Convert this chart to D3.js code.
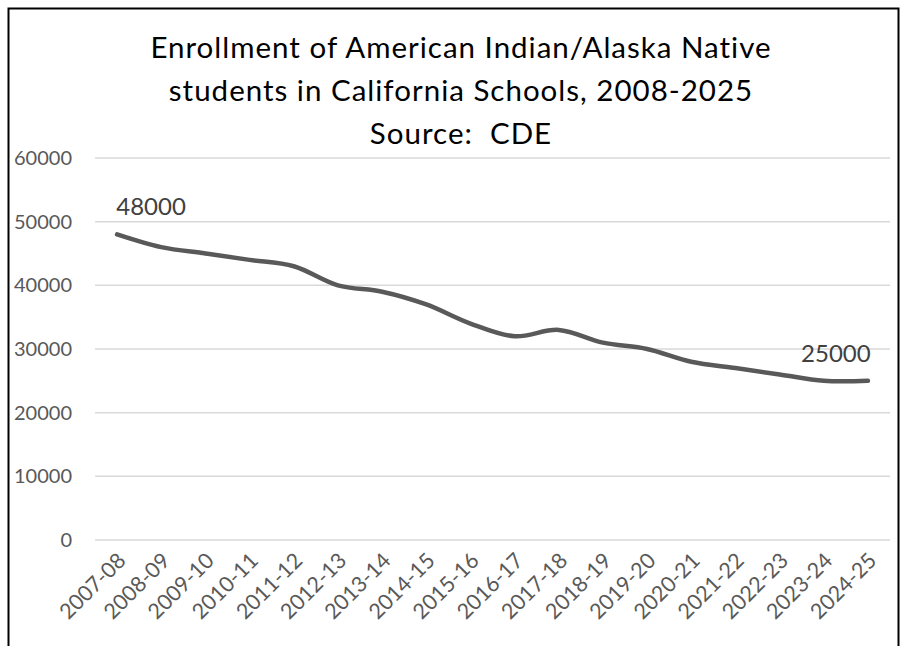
<!DOCTYPE html>
<html>
<head>
<meta charset="utf-8">
<script src="https://cdn.jsdelivr.net/npm/d3@7"></script>
<style>
  body { margin: 0; background: #fff; }
  text { font-family: Lato, "Open Sans", sans-serif; white-space: pre; }
</style>
</head>
<body>
<div id="chart"></div>
<script>
// School years on the x axis
const years = ["2007-08", "2008-09", "2009-10", "2010-11", "2011-12", "2012-13",
    "2013-14", "2014-15", "2015-16", "2016-17", "2017-18", "2018-19",
    "2019-20", "2020-21", "2021-22", "2022-23", "2023-24", "2024-25"];

// Enrollment
const enrollment = [48000, 46000, 45000, 44000, 43000, 40000, 39000, 37000, 34000,
    32000, 33000, 31000, 30000, 28000, 27000, 26000, 25000, 25000];

const yTicks = [0, 10000, 20000, 30000, 40000, 50000, 60000];

const titleLines = ["Enrollment of American Indian/Alaska Native",
    "students in California Schools, 2008-2025",
    "Source:  CDE"];

const width = 906, height = 646;
const margin = { top: 158, right: 16, bottom: 106, left: 95 };
const plotW = width - margin.left - margin.right;
const plotH = height - margin.top - margin.bottom;

const svg = d3.select("#chart")
    .append("svg")
    .attr("width", width)
    .attr("height", height);

// Outer frame (bottom edge is cut off in the original)
svg.append("path")
    .attr("d", `M8.5,${height} V8.5 H898.5 V${height}`)
    .attr("fill", "none")
    .attr("stroke", "#000")
    .attr("stroke-width", 2);

// Title
svg.append("g")
    .selectAll("text")
    .data(titleLines)
    .enter()
    .append("text")
    .attr("x", 461)
    .attr("y", (d, i) => 58 + i * 43)
    .attr("text-anchor", "middle")
    .attr("font-size", 29.5)
    .attr("letter-spacing", 1)
    .attr("fill", "#000")
    .text(d => d);

const g = svg.append("g")
    .attr("transform", `translate(${margin.left},${margin.top})`);

const xScale = d3.scaleBand()
    .domain(years)
    .range([0, plotW]);

const yScale = d3.scaleLinear()
    .domain([0, 60000])
    .range([plotH, 0]);

// Horizontal grid lines
g.selectAll(".grid")
    .data(yTicks)
    .enter()
    .append("line")
    .attr("x1", 0)
    .attr("x2", plotW)
    .attr("y1", d => yScale(d))
    .attr("y2", d => yScale(d))
    .attr("stroke", "#d9d9d9")
    .attr("stroke-width", 1.5);

// Y axis labels
const yAxis = g.append("g")
    .call(d3.axisLeft(yScale).tickValues(yTicks).tickSize(0).tickPadding(23).tickFormat(d => d));
yAxis.select(".domain").remove();
yAxis.selectAll("text")
    .attr("font-size", 20)
    .attr("fill", "#595959")
    .style("font-family", "Lato, sans-serif");

// X axis labels, rotated
const xAxis = g.append("g")
    .attr("transform", `translate(0,${plotH})`)
    .call(d3.axisBottom(xScale).tickSize(0).tickPadding(0));
xAxis.select(".domain").remove();
xAxis.selectAll("text")
    .attr("font-size", 21.5)
    .attr("fill", "#595959")
    .style("font-family", "Lato, sans-serif")
    .attr("text-anchor", "end")
    .attr("dy", 0)
    .attr("transform", "translate(10,22) rotate(-45)");

// Smoothed line
const line = d3.line()
    .x((d, i) => xScale(years[i]) + xScale.bandwidth() / 2)
    .y(d => yScale(d))
    .curve(d3.curveCatmullRom.alpha(0.5));

g.append("path")
    .datum(enrollment)
    .attr("fill", "none")
    .attr("stroke", "#595959")
    .attr("stroke-width", 4.5)
    .attr("stroke-linecap", "round")
    .attr("stroke-linejoin", "round")
    .attr("d", line);

// Labels on first and last points
const labelled = [0, enrollment.length - 1];
g.selectAll(".dlabel")
    .data(labelled)
    .enter()
    .append("text")
    .attr("x", i => xScale(years[i]) + xScale.bandwidth() / 2 + (i === 0 ? 34 : -32))
    .attr("y", i => yScale(enrollment[i]) - 19)
    .attr("text-anchor", "middle")
    .attr("font-size", 24)
    .attr("fill", "#404040")
    .text(i => enrollment[i]);
</script>
</body>
</html>
